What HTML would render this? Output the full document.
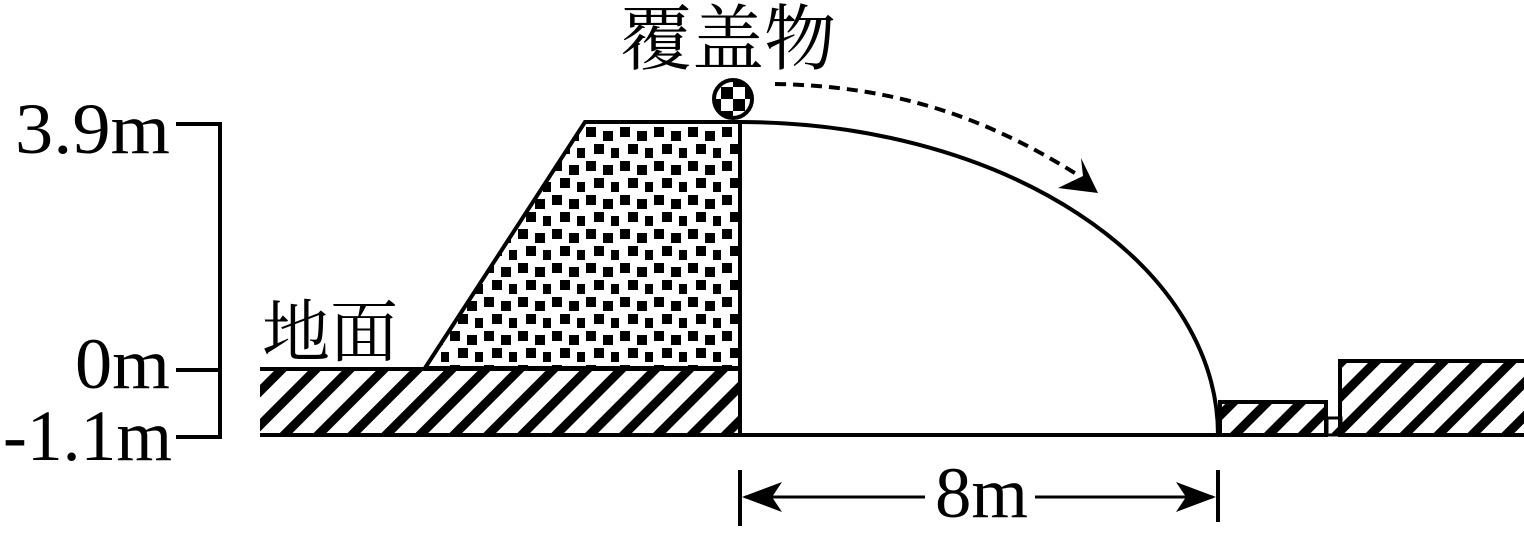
<!DOCTYPE html>
<html><head><meta charset="utf-8"><style>html,body{margin:0;padding:0;background:#fff}svg{display:block}</style></head>
<body>
<svg width="1524" height="539" viewBox="0 0 1524 539" xmlns="http://www.w3.org/2000/svg">
<defs>
<pattern id="h" width="24" height="24" patternUnits="userSpaceOnUse" patternTransform="rotate(45)">
<rect x="0" y="0" width="9" height="24" fill="#000"/>
</pattern>
<pattern id="d" width="34" height="34" patternUnits="userSpaceOnUse" x="585" y="126">
<rect x="1" y="1" width="10" height="10" fill="#000"/>
<rect x="18" y="5" width="10" height="10" fill="#000"/>
<rect x="9" y="18" width="10" height="10" fill="#000"/>
<rect x="26" y="22" width="8" height="10" fill="#000"/>
</pattern>
<pattern id="c" width="24" height="24" patternUnits="userSpaceOnUse" x="721" y="87">
<rect x="0" y="0" width="12" height="12" fill="#000"/>
<rect x="12" y="12" width="12" height="12" fill="#000"/>
</pattern>
<clipPath id="bc"><circle cx="733" cy="99" r="18"/></clipPath>
</defs>
<g font-family="Liberation Serif, serif" font-size="72" fill="#000">
<text x="15" y="153" textLength="155" lengthAdjust="spacingAndGlyphs">3.9m</text>
<text x="75" y="388" textLength="95" lengthAdjust="spacingAndGlyphs">0m</text>
<text x="3" y="460" textLength="169" lengthAdjust="spacingAndGlyphs">-1.1m</text>
<text x="935" y="517" textLength="93" lengthAdjust="spacingAndGlyphs">8m</text>
</g>
<g font-family="Liberation Serif, 'Noto Serif CJK SC', serif" fill="#000">
<text x="262" y="356" font-size="68">地面</text>
<text x="620" y="64" font-size="72">覆盖物</text>
</g>
<g stroke="#000" stroke-width="4" fill="none">
<path d="M176,124 H220 V437 H176 M176,370 H220"/>
</g>
<path d="M585,122 L740,122 L740,368 L425,368 Z" fill="url(#d)" stroke="#000" stroke-width="4"/>
<rect x="260" y="370" width="480" height="65" fill="url(#h)" stroke="none"/>
<path d="M260,369 H740 M260,435 H1218 M740,122 V436" stroke="#000" stroke-width="4" fill="none"/>
<path d="M740,122 A478 313 0 0 1 1218,435" stroke="#000" stroke-width="4" fill="none"/>
<rect x="1220" y="402" width="106" height="33" fill="url(#h)" stroke="#000" stroke-width="4"/>
<rect x="1327" y="418" width="14" height="17" fill="url(#h)" stroke="#000" stroke-width="3"/>
<rect x="1340" y="361" width="186" height="74" fill="url(#h)" stroke="#000" stroke-width="4"/>
<rect x="712" y="78" width="42" height="42" fill="url(#c)" clip-path="url(#bc)"/>
<circle cx="733" cy="99" r="19" fill="none" stroke="#000" stroke-width="4"/>
<path d="M775,84 C900,86 990,120 1078,175" stroke="#000" stroke-width="4" stroke-dasharray="11,7" fill="none"/>
<path d="M1098,193 L1081,158 L1083,176 L1058,188 Z" fill="#000"/>
<path d="M740,470 V526 M1218,470 V522" stroke="#000" stroke-width="4"/>
<path d="M745,497 H925 M1035,497 H1213" stroke="#000" stroke-width="3"/>
<path d="M742,497 L782,482 L772,497 L782,512 Z" fill="#000"/>
<path d="M1216,497 L1176,482 L1186,497 L1176,512 Z" fill="#000"/>
</svg>
</body></html>
